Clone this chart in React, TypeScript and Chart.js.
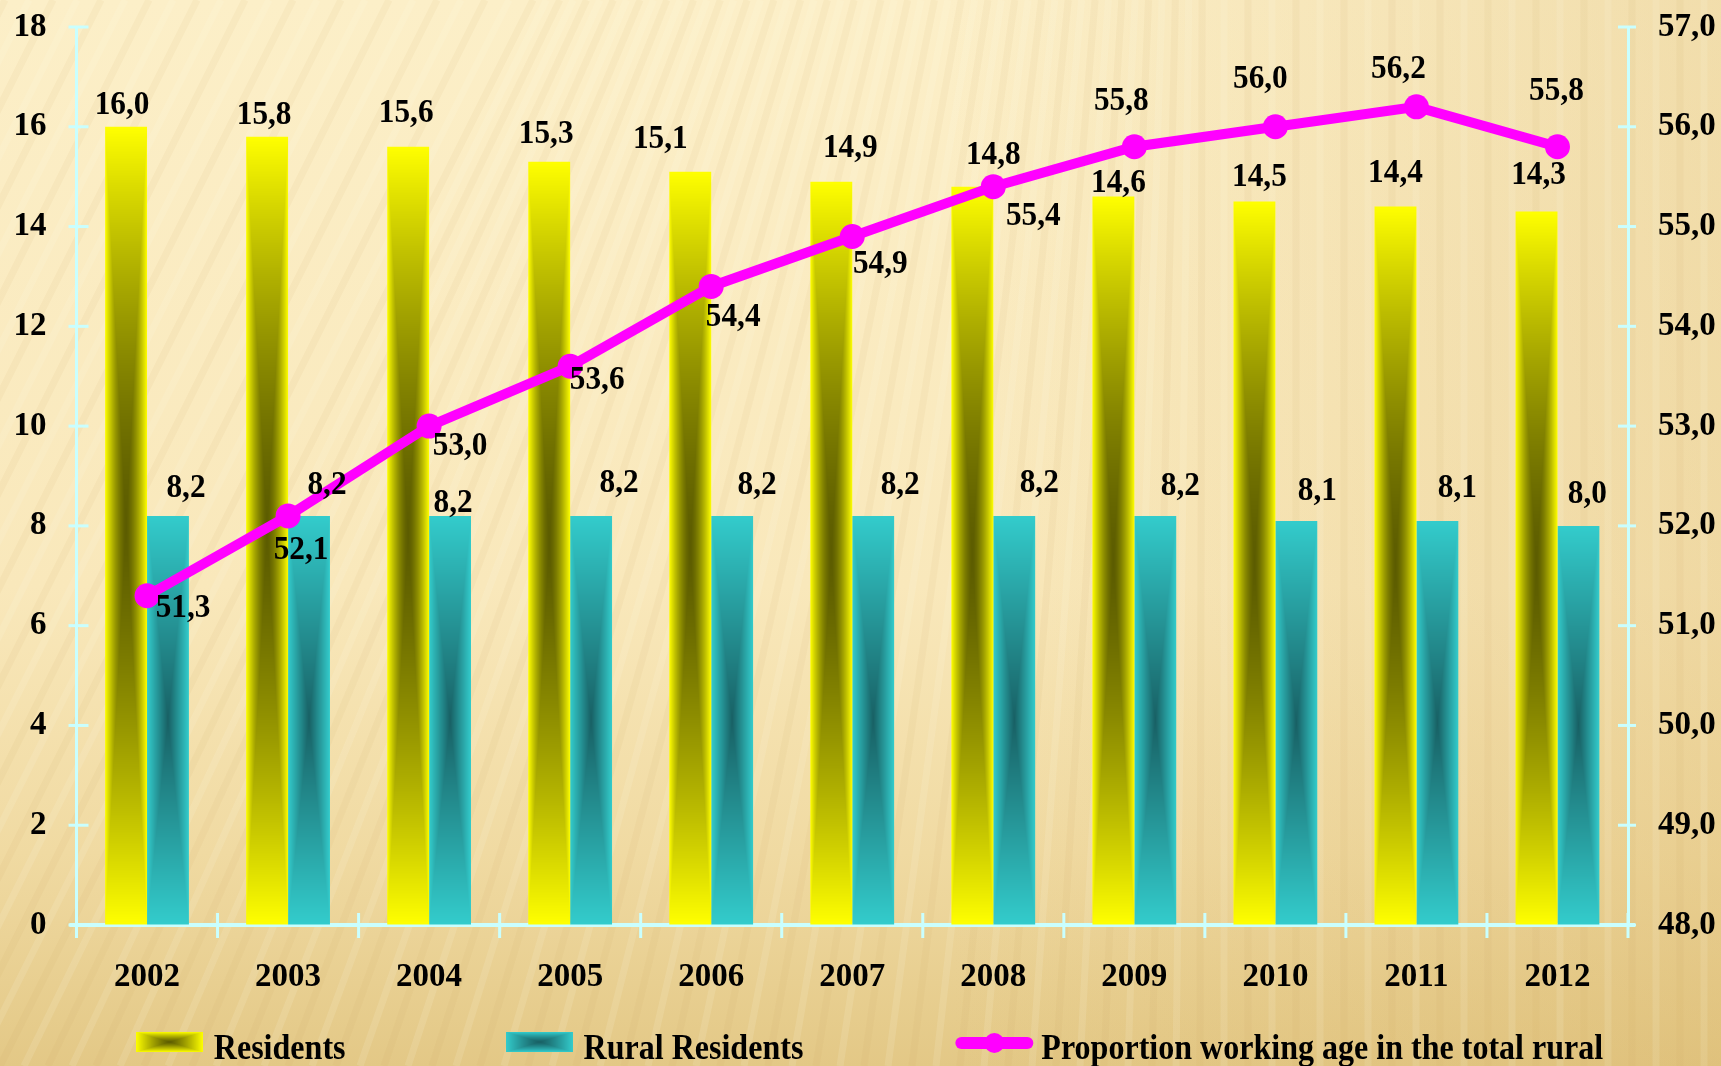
import React, { useEffect, useRef } from 'react';
import { Chart, registerables } from 'chart.js';

Chart.register(...registerables);

// ---------- data ----------
const years = ['2002', '2003', '2004', '2005', '2006', '2007', '2008', '2009', '2010', '2011', '2012'];
const residents = [16.0, 15.8, 15.6, 15.3, 15.1, 14.9, 14.8, 14.6, 14.5, 14.4, 14.3];
const ruralResidents = [8.2, 8.2, 8.2, 8.2, 8.2, 8.2, 8.2, 8.2, 8.1, 8.1, 8.0];
const workingAgeShare = [51.3, 52.1, 53.0, 53.6, 54.4, 54.9, 55.4, 55.8, 56.0, 56.2, 55.8];
const seriesNames = ['Residents', 'Rural Residents', 'Proportion working age in the total rural'];
const leftAxis = { min: 0, max: 18, step: 2 };
const rightAxis = { min: 48, max: 57, step: 1 };

// ---------- label placement (px offsets from each mark) ----------
const residentsLabelOffsets = [[-4, -24], [-3, -24], [-2, -36], [-3, -30], [-30, -35], [19, -36], [21, -34], [5, -16], [5, -27], [0, -36], [2, -39]];
const ruralLabelOffsets = [[18, -30], [18, -33], [3, -15], [28, -35], [25, -33], [27, -33], [25, -35], [25, -32], [21, -32], [20, -35], [9, -34]];
const shareLabelOffsets = [[36, 10], [13, 32], [31, 17], [27, 11], [22, 28], [28, 25], [40, 27], [-13, -48], [-15, -50], [-18, -40], [-1, -58]];

// ---------- styles ----------
const FONT = '"Liberation Serif", "Times New Roman", serif';
const AXIS_COLOR = '#c9ffff';
const YELLOW = { light: [255, 255, 0], dark: [92, 92, 0], gamma: 1.5, solid: '#ffff00' };
const TEAL = { light: [51, 204, 204], dark: [24, 96, 100], gamma: 1.0, solid: '#33cccc' };
const MAGENTA = '#ff00ff';

const fmt = (v: number) => v.toFixed(1).replace('.', ',');

function paintPathGradient(img: ImageData, x0: number, y0: number, x1: number, y1: number, style: any) {
  const W = img.width, H = img.height;
  const cx = (x0 + x1) / 2, cy = (y0 + y1) / 2;
  const hw = Math.max(0.5, (x1 - x0) / 2), hh = Math.max(0.5, (y1 - y0) / 2);
  const ix0 = Math.max(0, Math.floor(x0) - 1), ix1 = Math.min(W, Math.ceil(x1) + 1);
  const iy0 = Math.max(0, Math.floor(y0) - 1), iy1 = Math.min(H, Math.ceil(y1) + 1);
  const { light, dark, gamma } = style;
  for (let py = iy0; py < iy1; py++) {
    const fy = Math.abs(py + 0.5 - cy) / hh;
    for (let px = ix0; px < ix1; px++) {
      const fx = Math.abs(px + 0.5 - cx) / hw;
      let t = Math.min(1, Math.max(fx, fy));
      t = Math.pow(t, gamma);
      const k = (py * W + px) * 4;
      img.data[k] = dark[0] + (light[0] - dark[0]) * t;
      img.data[k + 1] = dark[1] + (light[1] - dark[1]) * t;
      img.data[k + 2] = dark[2] + (light[2] - dark[2]) * t;
      img.data[k + 3] = 255;
    }
  }
}

// builds a per-dataset texture from the actual bar element geometry
const barTexturePlugin = {
  id: 'barTexture',
  afterDatasetsUpdate(chart: any) {
    const tex: any = {};
    chart.data.datasets.forEach((ds: any, di: number) => {
      if (!ds.pathStyle) return;
      const meta = chart.getDatasetMeta(di);
      const off = document.createElement('canvas');
      off.width = chart.width;
      off.height = chart.height;
      const octx = off.getContext('2d') as CanvasRenderingContext2D;
      const img = octx.createImageData(chart.width, chart.height);
      meta.data.forEach((el: any) => {
        const p = el.getProps(['x', 'y', 'base', 'width'], true);
        if (!isFinite(p.x) || !isFinite(p.y)) return;
        paintPathGradient(img, p.x - p.width / 2, Math.min(p.y, p.base), p.x + p.width / 2, Math.max(p.y, p.base), ds.pathStyle);
      });
      octx.putImageData(img, 0, 0);
      tex[di] = chart.ctx.createPattern(off, 'no-repeat');
    });
    chart.$barTex = tex;
  },
};

const backgroundPlugin = {
  id: 'pageBackground',
  beforeDraw(chart: any) {
    const { ctx, width: W, height: H } = chart;
    ctx.save();
    const g = ctx.createLinearGradient(0, 0, 0, H);
    g.addColorStop(0, '#fcefc8');
    g.addColorStop(0.55, '#f9e8bb');
    g.addColorStop(0.8, '#f0daa2');
    g.addColorStop(1, '#e3c886');
    ctx.fillStyle = g;
    ctx.fillRect(0, 0, W, H);
    const g2 = ctx.createLinearGradient(W * 0.55, 0, W, 0);
    g2.addColorStop(0, 'rgba(214,176,98,0)');
    g2.addColorStop(1, 'rgba(214,176,98,0.28)');
    ctx.fillStyle = g2;
    ctx.fillRect(0, 0, W, H);
    // soft streaks
    const spacing = 24;
    for (let i = -60; i < W / spacing + 10; i++) {
      const xb = i * spacing;
      const tilt = Math.max(0, 0.5 * H * (1 - Math.max(0, xb) / (W * 0.7)));
      ctx.beginPath();
      ctx.moveTo(xb, H);
      ctx.lineTo(xb + tilt, 0);
      ctx.lineWidth = 7;
      ctx.strokeStyle = i % 2 === 0 ? 'rgba(200,160,80,0.07)' : 'rgba(255,253,238,0.12)';
      ctx.stroke();
    }
    ctx.restore();
  },
};

const crossTicksPlugin = {
  id: 'crossTicks',
  beforeDatasetsDraw(chart: any) {
    const { ctx, scales, chartArea } = chart;
    ctx.save();
    ctx.strokeStyle = AXIS_COLOR;
    ctx.lineWidth = 3;
    const y = scales.y, y1 = scales.y1, x = scales.x;
    y.ticks.forEach((t: any) => {
      const py = y.getPixelForValue(t.value);
      ctx.beginPath(); ctx.moveTo(chartArea.left - 8, py); ctx.lineTo(chartArea.left + 12, py); ctx.stroke();
    });
    y1.ticks.forEach((t: any) => {
      const py = y1.getPixelForValue(t.value);
      ctx.beginPath(); ctx.moveTo(chartArea.right - 10, py); ctx.lineTo(chartArea.right + 8, py); ctx.stroke();
    });
    const n = years.length;
    const cw = (chartArea.right - chartArea.left) / n;
    for (let i = 0; i <= n; i++) {
      const px = x.getPixelForValue(0) - cw / 2 + i * cw;
      ctx.beginPath(); ctx.moveTo(px, chartArea.bottom - (i === 0 ? 0 : 12)); ctx.lineTo(px, chartArea.bottom + 13); ctx.stroke();
    }
    ctx.lineWidth = 4;
    ctx.beginPath(); ctx.moveTo(chartArea.left - 7, chartArea.bottom); ctx.lineTo(chartArea.right + 7, chartArea.bottom); ctx.stroke();
    ctx.restore();
  },
};

function drawCondensed(ctx: CanvasRenderingContext2D, text: string, x: number, y: number, sx: number) {
  ctx.save();
  ctx.translate(x, y);
  ctx.scale(sx, 1);
  ctx.fillText(text, 0, 0);
  ctx.restore();
}

const valueLabelsPlugin = {
  id: 'valueLabels',
  afterDatasetsDraw(chart: any) {
    const ctx = chart.ctx;
    const size = 34;
    ctx.save();
    ctx.font = `bold ${size}px ${FONT}`;
    ctx.fillStyle = '#000';
    ctx.textAlign = 'center';
    ctx.textBaseline = 'alphabetic';
    chart.data.datasets.forEach((ds: any, di: number) => {
      const meta = chart.getDatasetMeta(di);
      const offs = ds.labelOffsets || [];
      meta.data.forEach((el: any, i: number) => {
        const o = offs[i] || [0, -24];
        const v = ds.data[i];
        drawCondensed(ctx, fmt(v), el.x + o[0], el.y + o[1] + 0.34 * size, 0.92);
      });
    });
    ctx.restore();
  },
};

const legendGaps = [160, 152];

const customLegendPlugin = {
  id: 'customLegend',
  afterDraw(chart: any) {
    const ctx = chart.ctx as CanvasRenderingContext2D;
    const size = 36, sx = 0.89;
    const baseline = chart.height - 7;
    ctx.save();
    ctx.font = `bold ${size}px ${FONT}`;
    ctx.textAlign = 'left';
    ctx.textBaseline = 'alphabetic';
    const items = chart.data.datasets.map((ds: any) => {
      const isLine = ds.type === 'line';
      const iconW = isLine ? 78 : 67;
      const gap = isLine ? 8 : 11;
      const textW = ctx.measureText(ds.label).width * sx;
      return { ds, isLine, iconW, gap, textW, w: iconW + gap + textW };
    });
    const total = items.reduce((s: number, it: any) => s + it.w, 0) + legendGaps.reduce((a, b) => a + b, 0);
    let x = chart.width / 2 + 9 - total / 2;
    items.forEach((it: any, idx: number) => {
      if (it.isLine) {
        const cy = baseline - 16;
        ctx.strokeStyle = MAGENTA;
        ctx.lineWidth = 12;
        ctx.lineCap = 'round';
        ctx.beginPath(); ctx.moveTo(x + 6, cy); ctx.lineTo(x + it.iconW - 6, cy); ctx.stroke();
        ctx.fillStyle = MAGENTA;
        ctx.beginPath(); ctx.arc(x + it.iconW / 2, cy, 10, 0, Math.PI * 2); ctx.fill();
      } else {
        const bw = it.iconW, bh = 20;
        const tmp = document.createElement('canvas');
        tmp.width = bw; tmp.height = bh;
        const tctx = tmp.getContext('2d') as CanvasRenderingContext2D;
        const img = tctx.createImageData(bw, bh);
        paintPathGradient(img, 0, 0, bw, bh, { ...it.ds.pathStyle, gamma: 1.2 });
        tctx.putImageData(img, 0, 0);
        ctx.drawImage(tmp, Math.round(x), Math.round(baseline - 27));
      }
      ctx.fillStyle = '#000';
      drawCondensed(ctx, it.ds.label, x + it.iconW + it.gap, baseline, sx);
      x += it.w + (legendGaps[idx] || 0);
    });
    ctx.restore();
  },
};

const tickFont = { family: FONT, size: 33, weight: 'bold' as const };
const hiddenGrid = { display: true, drawOnChartArea: false, drawTicks: false, color: 'rgba(0,0,0,0)' };

export default function App() {
  const ref = useRef<HTMLCanvasElement>(null);

  useEffect(() => {
    const canvas = ref.current;
    if (!canvas) return;
    const texFill = (fallback: string) => (c: any) => {
      const tex = c.chart.$barTex;
      return tex && tex[c.datasetIndex] ? tex[c.datasetIndex] : fallback;
    };
    const fitVertical = (w: number) => (s: any) => {
      s.width = w;
      s.paddingTop = 0;
      s.paddingBottom = 0;
    };
    const chart = new Chart(canvas, {
      type: 'bar',
      data: {
        labels: years,
        datasets: [
          {
            type: 'bar',
            label: seriesNames[0],
            data: residents,
            yAxisID: 'y',
            order: 1,
            backgroundColor: texFill(YELLOW.solid),
            borderWidth: 0,
            categoryPercentage: 0.594,
            barPercentage: 1.0,
            pathStyle: YELLOW,
            labelOffsets: residentsLabelOffsets,
          } as any,
          {
            type: 'bar',
            label: seriesNames[1],
            data: ruralResidents,
            yAxisID: 'y',
            order: 1,
            backgroundColor: texFill(TEAL.solid),
            borderWidth: 0,
            categoryPercentage: 0.594,
            barPercentage: 1.0,
            pathStyle: TEAL,
            labelOffsets: ruralLabelOffsets,
          } as any,
          {
            type: 'line',
            label: seriesNames[2],
            data: workingAgeShare,
            yAxisID: 'y1',
            order: 0,
            borderColor: MAGENTA,
            backgroundColor: MAGENTA,
            borderWidth: 10,
            tension: 0,
            fill: false,
            pointRadius: 12.5,
            pointHoverRadius: 12.5,
            pointBackgroundColor: MAGENTA,
            pointBorderColor: MAGENTA,
            pointBorderWidth: 0,
            labelOffsets: shareLabelOffsets,
          } as any,
        ],
      },
      options: {
        responsive: false,
        animation: false,
        layout: { padding: { top: 27, left: 0, right: 0, bottom: 0 } },
        plugins: {
          legend: { display: false },
          tooltip: { enabled: false },
          title: { display: false },
        },
        scales: {
          x: {
            type: 'category',
            offset: true,
            grid: { ...hiddenGrid, offset: true },
            border: { display: true, color: AXIS_COLOR, width: 4 },
            ticks: { color: '#000', font: tickFont, padding: 33, maxRotation: 0, autoSkip: false },
            afterFit: (s: any) => { s.height = 141; s.paddingLeft = 0; s.paddingRight = 0; },
          },
          y: {
            type: 'linear',
            position: 'left',
            min: leftAxis.min,
            max: leftAxis.max,
            grid: hiddenGrid,
            border: { display: true, color: AXIS_COLOR, width: 3 },
            ticks: { stepSize: leftAxis.step, color: '#000', font: tickFont, padding: 30 },
            afterFit: fitVertical(76.5),
          },
          y1: {
            type: 'linear',
            position: 'right',
            min: rightAxis.min,
            max: rightAxis.max,
            grid: hiddenGrid,
            border: { display: true, color: AXIS_COLOR, width: 3 },
            ticks: {
              stepSize: rightAxis.step,
              color: '#000',
              font: tickFont,
              padding: 30,
              callback: (v: any) => fmt(Number(v)),
            },
            afterFit: fitVertical(93),
          },
        },
      } as any,
      plugins: [backgroundPlugin, barTexturePlugin, crossTicksPlugin, valueLabelsPlugin, customLegendPlugin],
    });
    // second pass so bar fills pick up textures built from the laid-out bars
    chart.update('none');
    return () => chart.destroy();
  }, []);

  return (
    <div style={{ position: 'fixed', left: 0, top: 0, width: 1721, height: 1066 }}>
      <canvas ref={ref} width={1721} height={1066} style={{ width: 1721, height: 1066, display: 'block' }} />
    </div>
  );
}
